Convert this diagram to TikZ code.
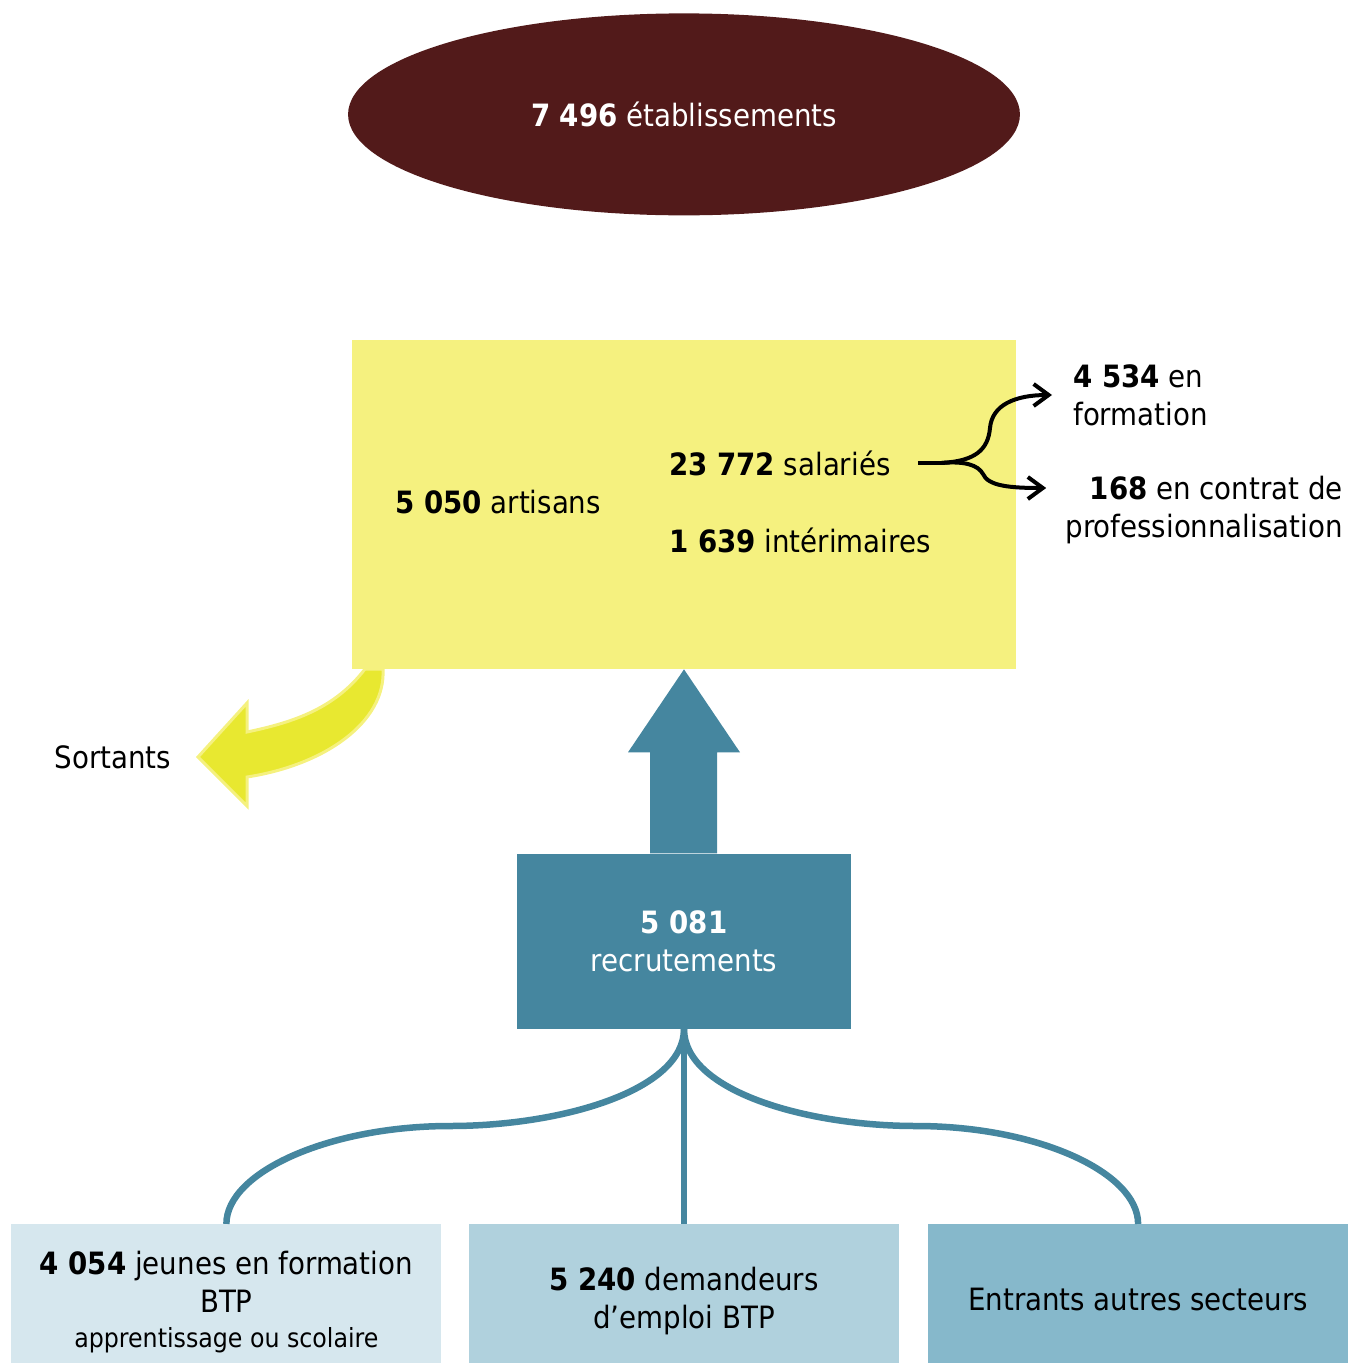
\documentclass[tikz,border=0pt]{standalone}
\usepackage{fontspec}
\setmainfont{DejaVu Sans Condensed}
\usepackage{xcolor}
\usetikzlibrary{arrows.meta, positioning, calc, shapes.geometric}
\definecolor{firmred}{HTML}{521A1A}
\definecolor{stockyellow}{HTML}{F5F17F}
\definecolor{exityellow}{HTML}{E8E830}
\definecolor{recblue}{HTML}{45869F}
\definecolor{paleblue}{HTML}{D6E7EE}
\definecolor{midblue}{HTML}{B0D1DD}
\definecolor{deepblue}{HTML}{86B8CB}
\tikzset{
  firms/.style={ellipse, fill=firmred, text=white, inner sep=0pt, minimum width=13.44cm, minimum height=4.04cm},
  stock/.style={fill=stockyellow, inner sep=0pt, minimum width=13.28cm, minimum height=6.58cm},
  recruit/.style={fill=recblue, text=white, align=center, inner sep=0pt, minimum width=6.7cm, minimum height=3.5cm},
  source/.style={inner sep=0pt, minimum width=8.6cm, minimum height=2.78cm},
  sourcetext/.style={align=center, inner sep=0pt},
  figure/.style={anchor=base west, inner sep=0pt},
  forkarrow/.style={-{Straight Barb[length=0.3cm, width=0.44cm]}, line width=0.08cm},
  feed/.style={draw=recblue, line width=0.13cm},
  exitarrow/.style={fill=exityellow, draw=stockyellow, line width=0.06cm, line join=miter},
  every node/.style={font=\fontsize{17.5}{21.5}\selectfont}
}

\begin{document}
\begin{tikzpicture}[x=0.02cm, y=-0.02cm]
    \useasboundingbox (0,0) rectangle (1348,1363);

    \node[stock] (yel) at (684,504.5) {};
    \node[firms, above=2.48cm of yel] (firms) {\textbf{7 496} établissements};
    \node[recruit, below=3.68cm of yel] (rec) {\textbf{5 081}\\recrutements};
    \node[source, fill=midblue, below=3.9cm of rec] (dem) {};
    \node[source, fill=paleblue, left=0.54cm of dem] (young) {};
    \node[source, fill=deepblue, right=0.56cm of dem, minimum width=8.42cm] (other) {};

    % texts of the three sources
    \node[sourcetext] (youngtxt) at ([yshift=-0.16cm]young.center) {\textbf{4 054} jeunes en formation\\BTP\\[-1.5pt]{\fontsize{15}{19}\selectfont apprentissage ou scolaire}};
    \node[sourcetext] (demtxt) at ([yshift=-0.14cm]dem.center) {\textbf{5 240} demandeurs\\d’emploi BTP};
    \node[sourcetext] (othertxt) at ([yshift=-0.12cm]other.center) {Entrants autres secteurs};

    % contents of the stock box
    \node[figure] (art) at (395,513) {\textbf{5 050} artisans};
    \node[figure] (sal) at (669,475) {\textbf{23 772} salariés};
    \node[figure] (int) at (669,552) {\textbf{1 639} intérimaires};

    \node[anchor=west, align=left, inner xsep=0.42cm, inner ysep=0pt] (form) at (1052,395) {\textbf{4 534} en\\formation};
    \node[anchor=east, align=right, inner sep=0pt] (pro) at (1343,510) {\textbf{168} en contrat de\\professionnalisation};
    \node (leavers) at (113,757) {Sortants};

    % split of the salaried staff
    \draw[line width=0.08cm] ([xshift=0.54cm]sal.east) -- ++(24,0) coordinate (split);
    \draw[forkarrow] (split) .. controls (975,461) and (988,450) .. (990,428)
        .. controls (992,405) and (1015,395) .. (form.west);
    \draw[forkarrow] (split) .. controls (965,461) and (978,465) .. (983,474)
        .. controls (988,486) and (1010,488) .. ($(pro.west)+(-19,-22)$);

    % leavers
    \draw[exitarrow] (365,669) .. controls (335,708) and (295,722) .. (247,732) -- (247,703)
        -- (198,757) -- (247,806) -- (247,777) .. controls (325,765) and (386,722) .. (383,669) -- cycle;

    % recruitment arrow
    \fill[recblue] (rec.north) ++(-34,0) -- ++(0,-101) -- ++(-22,0) -- (yel.south)
        -- ++(56,83) -- ++(-23,0) -- ++(0,101) -- cycle;

    % sources of recruitment
    \draw[feed] (rec.south) .. controls +(0,62) and (560,1126) .. (450,1126)
        .. controls (330,1126) and ($(young.north)+(0,-52)$) .. (young.north);
    \draw[feed] (rec.south) -- (dem.north);
    \draw[feed] (rec.south) .. controls +(0,62) and (806,1126) .. (916,1126)
        .. controls (1036,1126) and ($(other.north)+(0,-52)$) .. (other.north);
\end{tikzpicture}
\end{document}
